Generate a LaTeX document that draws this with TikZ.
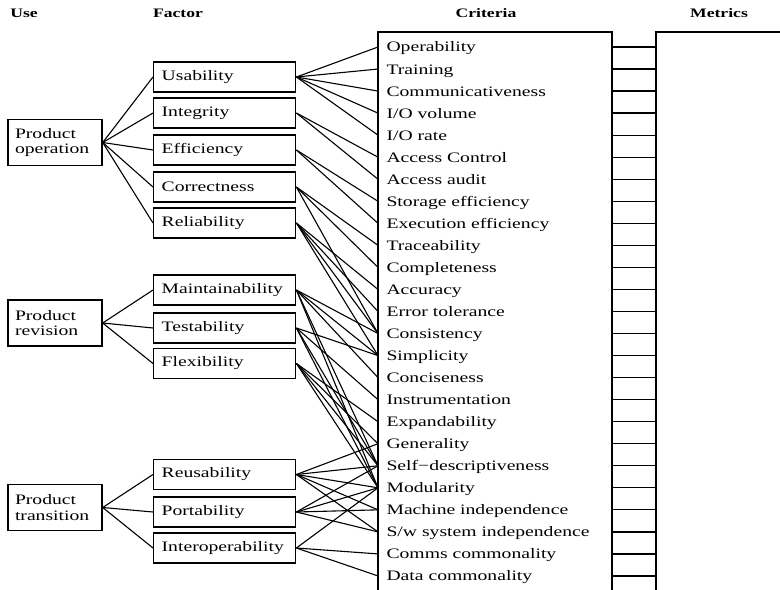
\documentclass[tikz,border=0pt]{standalone}
\usepackage{fontspec}
\setmainfont{Liberation Serif}[FakeStretch=1.36]
\begin{document}
\begin{tikzpicture}[x=1bp,y=-1bp,
  line width=1.1bp,
  head/.style={font=\fontsize{13}{13}\selectfont\bfseries, anchor=base},
  usebox/.style={draw, line width=1.4bp, minimum width=94bp, minimum height=46bp,
    inner xsep=7bp, text width=80bp, align=left,
    font=\fontsize{14.5}{15.5}\selectfont},
  factbox/.style={draw, line width=1.4bp, minimum height=30bp,
    inner xsep=8bp, text width=126bp, align=left,
    font=\fontsize{14.5}{15}\selectfont},
  crit/.style={anchor=base west, inner sep=0pt, font=\fontsize{14.5}{15}\selectfont},
  link/.style={line width=1.1bp}]
\useasboundingbox (0,0) rectangle (780,590);

% column headings
\node[head] (hUse) at (24,18) {Use};
\node[head] (hFac) at (178,18) {Factor};
\node[head] (hCri) at (486,18) {Criteria};
\node[head] (hMet) at (719,18) {Metrics};

% criteria and metrics columns (open at the bottom / right)
\draw[line width=1.4bp] (378,596) -- (378,32) -- (612,32) -- (612,596);
\draw[line width=1.4bp] (656,596) -- (656,32) -- (790,32);

% criteria list, with a bar to the metrics column for each one
\foreach \name [count=\n from 0,
    evaluate=\n as \yy using 47+22.04*\n] in
  {Operability, Training, Communicativeness, I/O volume, I/O rate,
   Access Control, Access audit, Storage efficiency, Execution efficiency,
   Traceability, Completeness, Accuracy, Error tolerance, Consistency,
   Simplicity, Conciseness, Instrumentation, Expandability, Generality,
   Self−descriptiveness, Modularity, Machine independence,
   S/w system independence, Comms commonality, Data commonality}{
  \node[crit] (cr\n) at (386,\yy+5) {\name};
  \coordinate (ce\n) at (378,\yy);
  \coordinate (bl\n) at (612,\yy);
  \coordinate (br\n) at (656,\yy);
  \draw[line width=1.3bp] (bl\n) -- (br\n);
}

% uses
\node[usebox] (uop) at (55,142.5) {Product\\operation};
\node[usebox] (urv) at (55,323) {Product\\revision};
\node[usebox] (utr) at (55,507.5) {Product\\transition};

% factors
\node[factbox, anchor=west] (fusa) at (153,77)  {Usability};
\node[factbox, anchor=west] (fint) at (153,113) {Integrity};
\node[factbox, anchor=west] (feff) at (153,150) {Efficiency};
\node[factbox, anchor=west] (fcor) at (153,187) {Correctness};
\node[factbox, anchor=west] (frel) at (153,223) {Reliability};
\node[factbox, anchor=west] (fmai) at (153,290) {Maintainability};
\node[factbox, anchor=west] (ftes) at (153,328) {Testability};
\node[factbox, anchor=west] (ffle) at (153,363.5) {Flexibility};
\node[factbox, anchor=west] (freu) at (153,474.5) {Reusability};
\node[factbox, anchor=west] (fpor) at (153,512) {Portability};
\node[factbox, anchor=west] (fiop) at (153,548) {Interoperability};

% use -> factor
\foreach \f in {fusa,fint,feff,fcor,frel}
  \draw[link] (uop.east) -- (\f.west);
\foreach \f in {fmai,ftes,ffle}
  \draw[link] (urv.east) -- (\f.west);
\foreach \f in {freu,fpor,fiop}
  \draw[link] (utr.east) -- (\f.west);

% factor -> criteria
\foreach \f/\cs in {fusa/{0,1,2,3,4}, fint/{5,6}, feff/{7,8},
    fcor/{9,10,13}, frel/{11,12,13,14}, fmai/{13,14,15,19,20},
    ftes/{14,16,19,20}, ffle/{17,18,19,20}, freu/{18,19,20,21,22},
    fpor/{19,20,21,22}, fiop/{20,23,24}}
  \foreach \c in \cs
    \draw[link] (\f.east) -- (ce\c);
\end{tikzpicture}
\end{document}
